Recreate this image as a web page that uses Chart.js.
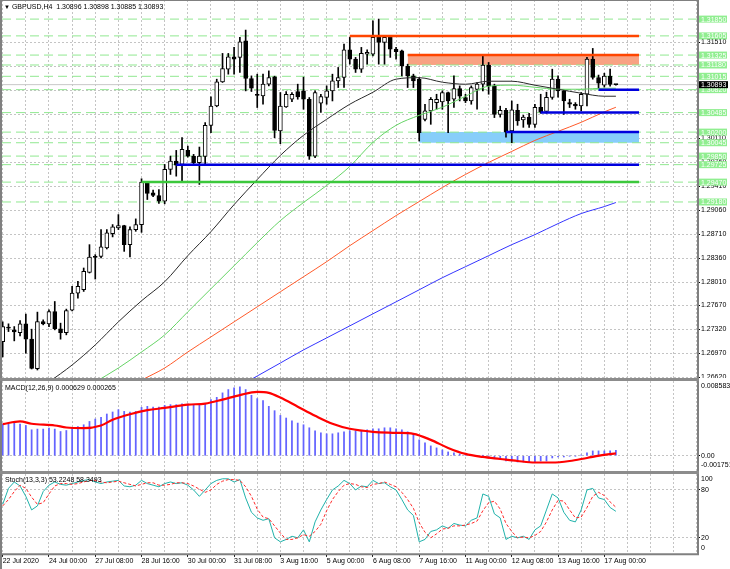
<!DOCTYPE html>
<html><head><meta charset="utf-8">
<script src="https://cdn.jsdelivr.net/npm/chart.js@4.4.0/dist/chart.umd.min.js"></script>
<style>
html,body{margin:0;padding:0;background:#fff;width:730px;height:569px;overflow:hidden;position:relative;}
canvas{position:absolute;left:0;}
.lbl{position:absolute;font:7px "Liberation Sans",Arial,sans-serif;line-height:8px;color:#000;white-space:pre;}
.sep{position:absolute;left:0;width:699px;background:#8c8c8c;}
</style></head><body>
<canvas id="cMain" style="top:0px" width="730" height="378"></canvas>
<canvas id="cMacd" style="top:381px" width="730" height="90"></canvas>
<canvas id="cStoch" style="top:474px" width="730" height="95"></canvas>
<div class="sep" style="top:378px;height:3px"></div>
<div class="sep" style="top:471px;height:3px"></div>
<div class="lbl" style="left:4px;top:3px"><span style="font-size:6px">▼</span> GBPUSD,H4  1.30896 1.30898 1.30885 1.30893</div>
<div class="lbl" style="left:5px;top:384px">MACD(12,26,9) 0.000629 0.000265</div>
<div class="lbl" style="left:5px;top:476px">Stoch(13,3,3) 53.2248 58.3493</div>
<script>
// ================= DATA =================
const timeLabels = ["22 Jul 2020","24 Jul 00:00","27 Jul 08:00","28 Jul 16:00","30 Jul 00:00","31 Jul 08:00","3 Aug 16:00","5 Aug 00:00","6 Aug 08:00","7 Aug 16:00","11 Aug 00:00","12 Aug 08:00","13 Aug 16:00","17 Aug 00:00"];
const priceTicks = [1.26620,1.26970,1.27320,1.27670,1.28010,1.28360,1.28710,1.29060,1.29410,1.29760,1.30110,1.30460,1.30810,1.31160,1.31510];

const opens = [1.27142,1.27346,1.27313,1.27273,1.27401,1.27177,1.26745,1.27434,1.27401,1.27581,
1.27327,1.27273,1.27600,1.27850,1.27898,1.28152,1.28386,1.28386,1.28509,1.28718,
1.28802,1.28835,1.28557,1.28777,1.28850,1.29460,1.29314,1.29275,1.29191,1.29655,
1.29777,1.29728,1.29933,1.29850,1.29753,1.29846,1.30299,1.30582,1.30933,1.31119,
1.31299,1.31291,1.31533,1.30983,1.30753,1.30728,1.30900,1.31006,1.30216,1.30567,
1.30680,1.30793,1.30802,1.30680,1.29850,1.30621,1.30705,1.30802,1.30948,1.30998,
1.31402,1.31266,1.31119,1.31339,1.31339,1.31583,1.31510,1.31583,1.31412,1.31387,
1.31159,1.31021,1.30973,1.30387,1.30509,1.30631,1.30640,1.30778,1.30680,1.30835,
1.30705,1.30655,1.30824,1.30900,1.31178,1.30875,1.30460,1.30519,1.30216,1.30519,
1.30378,1.30419,1.30314,1.30563,1.30504,1.30705,1.30973,1.30802,1.30631,1.30607,
1.30582,1.30753,1.31266,1.30998,1.30885,1.31018,1.30896];
const highs = [1.27430,1.27401,1.27361,1.27449,1.27543,1.27323,1.27572,1.27459,1.27606,1.27727,
1.27411,1.27616,1.27947,1.28020,1.28216,1.28557,1.28411,1.28777,1.28777,1.28850,
1.28996,1.28840,1.28816,1.28933,1.29519,1.29475,1.29352,1.29362,1.29728,1.29850,
1.29933,1.30119,1.29996,1.29875,1.29982,1.30339,1.30714,1.30973,1.31349,1.31349,
1.31437,1.31583,1.31690,1.31021,1.31046,1.31046,1.31094,1.31017,1.30778,1.30793,
1.30778,1.30900,1.31002,1.30705,1.30802,1.30753,1.30875,1.31046,1.31144,1.31485,
1.31583,1.31291,1.31437,1.31402,1.31826,1.31851,1.31607,1.31607,1.31437,1.31397,
1.31192,1.31046,1.30998,1.30607,1.30705,1.30753,1.30802,1.30785,1.31021,1.30875,
1.30753,1.30875,1.30925,1.31314,1.31217,1.30900,1.30579,1.30548,1.30655,1.30607,
1.30446,1.30475,1.30607,1.30753,1.30783,1.31119,1.31021,1.30810,1.30680,1.30631,
1.30778,1.31291,1.31422,1.31033,1.31060,1.31119,1.30898];
const lows = [1.26917,1.27288,1.27152,1.27225,1.26972,1.26742,1.26727,1.27386,1.27361,1.27313,
1.27177,1.27240,1.27590,1.27777,1.27874,1.28143,1.28055,1.28363,1.28494,1.28670,
1.28777,1.28459,1.28377,1.28752,1.28737,1.29216,1.29256,1.29158,1.29153,1.29582,
1.29557,1.29484,1.29835,1.29728,1.29436,1.29728,1.30192,1.30570,1.30925,1.31046,
1.31046,1.31071,1.30802,1.30793,1.30559,1.30607,1.30875,1.30119,1.30031,1.30559,
1.30646,1.30680,1.30534,1.29802,1.29826,1.30487,1.30607,1.30655,1.30851,1.30851,
1.31192,1.31071,1.31071,1.31192,1.31314,1.31192,1.31192,1.31291,1.31266,1.31021,
1.30851,1.30851,1.30070,1.30362,1.30314,1.30534,1.30534,1.30192,1.30559,1.30655,
1.30631,1.30607,1.30534,1.30802,1.30753,1.30412,1.30419,1.30126,1.30045,1.30299,
1.30270,1.30270,1.30270,1.30475,1.30475,1.30680,1.30709,1.30460,1.30559,1.30534,
1.30509,1.30582,1.30973,1.30841,1.30856,1.30870,1.30885];
const closes = [1.27361,1.27338,1.27283,1.27401,1.27177,1.26750,1.27434,1.27401,1.27581,1.27327,
1.27273,1.27595,1.27850,1.27947,1.28166,1.28377,1.28371,1.28524,1.28729,1.28816,
1.28835,1.28557,1.28777,1.28850,1.29469,1.29304,1.29275,1.29191,1.29655,1.29777,
1.29718,1.29948,1.29850,1.29753,1.29850,1.30299,1.30582,1.30933,1.31129,1.31299,
1.31266,1.31519,1.30983,1.30841,1.30734,1.30900,1.30998,1.30226,1.30582,1.30753,
1.30753,1.30714,1.30680,1.29850,1.30778,1.30720,1.30802,1.30948,1.30998,1.31402,
1.31266,1.31119,1.31349,1.31364,1.31583,1.31510,1.31583,1.31412,1.31373,1.31167,
1.31021,1.30948,1.30192,1.30509,1.30680,1.30680,1.30778,1.30655,1.30835,1.30724,
1.30655,1.30851,1.30900,1.31178,1.30875,1.30460,1.30519,1.30199,1.30524,1.30363,
1.30419,1.30314,1.30563,1.30490,1.30709,1.30973,1.30802,1.30655,1.30607,1.30582,
1.30753,1.31266,1.30998,1.30914,1.31017,1.30896,1.30893];

const maBlackIdx = [8,12,16,20,24,28,32,36,40,44,48,52,56,60,64,68,72,76,80,84,88,92,96,100,104,106];
const maBlack = [1.26551,1.26800,1.27093,1.27430,1.27737,1.28015,1.28396,1.28747,1.29142,1.29508,1.29860,1.30153,1.30387,1.30607,1.30782,1.30973,1.30995,1.30929,1.30899,1.30943,1.30943,1.30885,1.30826,1.30768,1.30724,1.30724];
const maGreenIdx = [16,20,24,28,32,36,40,44,48,52,56,60,64,68,72,76,80,84,88,92,96,100,104,106];
const maGreen = [1.26551,1.26756,1.26990,1.27239,1.27576,1.27913,1.28249,1.28586,1.28908,1.29172,1.29421,1.29699,1.30050,1.30299,1.30445,1.30563,1.30724,1.30870,1.30885,1.30855,1.30826,1.30826,1.30841,1.30841];
const maRedIdx = [24,28,32,36,40,44,48,52,56,60,64,68,72,76,80,84,88,92,96,100,104,106];
const maRed = [1.26580,1.26756,1.26990,1.27210,1.27430,1.27649,1.27869,1.28088,1.28308,1.28542,1.28762,1.28981,1.29186,1.29391,1.29582,1.29757,1.29918,1.30079,1.30211,1.30343,1.30496,1.30563];
const maBlueIdx = [40,44,48,52,56,60,64,68,72,76,80,84,88,92,96,100,104,106];
const maBlue = [1.26449,1.26639,1.26829,1.27020,1.27195,1.27371,1.27547,1.27722,1.27898,1.28074,1.28235,1.28396,1.28557,1.28703,1.28864,1.29011,1.29113,1.29172];

const levels = [1.31850,1.31605,1.31325,1.31180,1.31015,1.30820,1.30485,1.30200,1.30045,1.29850,1.29725,1.29470,1.29180];
const currentPrice = 1.30893;
const segValues = [1.31605,1.31325,1.30820,1.30485,1.30200,1.29725,1.29470];
const segStarts = [60,70,103,93,87,30,24];
const segEnd = 110;
const boxTops = [1.31325,1.30200];
const boxBottoms = [1.31180,1.30045];
const boxStarts = [70,72];

const macdHist = [0.003639,0.003673,0.003754,0.003639,0.003477,0.002980,0.003061,0.003061,0.003177,0.003061,
0.002784,0.002899,0.003177,0.003361,0.003558,0.003939,0.004216,0.004401,0.004794,0.005025,
0.005291,0.005094,0.005025,0.005094,0.005556,0.005672,0.005602,0.005602,0.005787,0.005868,
0.005868,0.005949,0.005949,0.005868,0.005787,0.005984,0.006446,0.006711,0.007220,0.007601,
0.007797,0.007913,0.007601,0.006942,0.006561,0.006330,0.005672,0.005175,0.004632,0.004332,
0.004020,0.003754,0.003558,0.003211,0.002865,0.002634,0.002518,0.002518,0.002634,0.002749,
0.002865,0.002865,0.002865,0.002980,0.003096,0.003096,0.003211,0.003211,0.003096,0.002980,
0.002749,0.002518,0.001825,0.001479,0.001132,0.000901,0.000670,0.000439,0.000323,0.000208,
0.000092,0.000035,-0.000023,0.000035,-0.000023,-0.000254,-0.000370,-0.000601,-0.000601,-0.000716,
-0.000716,-0.000716,-0.000716,-0.000601,-0.000601,-0.000254,-0.000139,-0.000139,-0.000023,-0.000023,
0.000092,0.000323,0.000554,0.000554,0.000554,0.000554,0.000629];
const macdSignalIdx = [0,3,5,9,11,14,17,19,22,25,28,32,35,38,41,44,46,48,51,54,57,60,64,68,71,74,77,80,83,86,89,92,95,98,101,104,106];
const macdSignal = [0.003639,0.003939,0.003673,0.003477,0.003246,0.003177,0.003477,0.004135,0.004771,0.005233,0.005487,0.005868,0.005984,0.006446,0.006965,0.007335,0.007220,0.006677,0.005637,0.004597,0.003673,0.003096,0.002749,0.002634,0.002518,0.001825,0.000901,0.000208,-0.000139,-0.000370,-0.000601,-0.000774,-0.000774,-0.000601,-0.000254,0.000092,0.000265];
const macdRange = [-0.001751, 0.008583];
const macdAxisValues = [0.008583, 0, -0.001751];
const macdAxisTexts = ["0.008583","0.00","-0.001751"];

const stochMain = [62,82,90,85,72,55,60,78,86,90,
87,86,88,90,92,93,90,88,90,91,
92,85,84,86,92,88,86,84,88,90,
88,89,86,80,72,80,88,92,94,94,
90,93,70,52,45,42,44,20,15,18,
22,20,30,15,40,55,68,80,85,92,
88,80,85,84,92,88,89,84,80,68,
55,48,15,18,28,30,35,32,38,36,
35,42,45,75,72,50,45,18,22,20,
22,18,30,35,55,75,70,52,42,40,
55,80,82,70,68,58,53.2248];
const stochSignal = [60,68,78,86,82,71,62,64,75,85,
88,88,87,88,90,92,92,90,89,90,
91,89,87,85,87,89,89,86,86,87,
89,89,88,85,81,77,80,87,91,93,
93,92,84,72,56,46,44,35,26,18,
18,20,24,22,28,37,54,68,78,86,
88,87,84,83,87,88,90,87,84,77,
68,57,39,27,20,25,31,32,35,35,
36,38,41,54,64,66,56,38,28,20,
21,20,23,28,40,55,67,66,55,45,
46,58,72,77,73,65,58.3493];
const stochAxisValues = [100,80,20,0];
const stochLevels = [20,80];

// ================= STYLE / SETUP =================
const FONT = '"Liberation Sans", Arial, sans-serif';
Chart.defaults.font.family = FONT;
Chart.defaults.font.size = 7;
Chart.defaults.color = '#000';
const XMIN = -0.121, XMAX = 120.02;
const GRID = '#c4c4c4';
const segColors = ['#ff4500','#ff4500','#0000dd','#0000dd','#0000dd','#0000dd','#3cc83c'];
const boxColors = ['#f8a283','#87cefa'];

function xAxis(showLabels){
  return {
    type:'linear', min:XMIN, max:XMAX, offset:false, position:'bottom',
    afterBuildTicks: s => { const t=[]; for(let v=0; v<=XMAX; v+=4) t.push({value:v}); s.ticks=t; },
    ticks:{ display:showLabels, autoSkip:false, maxRotation:0, minRotation:0, align:'start', padding:0, color:'#000', font:{size:7},
      callback: v => (v%8===0 && v/8 < timeLabels.length) ? timeLabels[v/8] : '' },
    grid:{ offset:false, color:GRID, lineWidth:1, drawTicks:showLabels, tickLength:3, tickWidth:1,
      tickColor: c => (c.tick && c.tick.value%8===0 && c.tick.value/8 < timeLabels.length) ? '#000' : 'rgba(0,0,0,0)' },
    border:{ display:false, dash:[2,2] },
    afterFit: s => { s.height = showLabels ? 15.2 : 0; s.paddingLeft=0; s.paddingRight=0; }
  };
}
function yAxis(min, max, tickVals, showLabels, fmt){
  return {
    type:'linear', position:'right', min:min, max:max, beginAtZero:false,
    afterBuildTicks: s => { s.ticks = tickVals.map(v=>({value:v})); },
    ticks:{ display:showLabels, autoSkip:false, padding:1, color:'#000', font:{size:7}, callback: fmt || (v => v) },
    grid:{ color:GRID, lineWidth:1, drawTicks:true, tickLength:3, tickWidth:1, tickColor:'#000' },
    border:{ display:false, dash:[2,2] },
    afterFit: s => { s.width = 33; s.paddingTop=0; s.paddingBottom=0; }
  };
}
const framePlugin = {
  id:'frame',
  afterDraw(chart, args, opts){
    const {ctx, chartArea:a} = chart;
    ctx.save(); ctx.strokeStyle='#808080'; ctx.setLineDash([]);
    ctx.lineWidth = 2;
    ctx.beginPath(); ctx.moveTo(1, 0); ctx.lineTo(1, chart.height); ctx.stroke();
    ctx.beginPath(); ctx.moveTo(a.right+1, 0); ctx.lineTo(a.right+1, a.bottom+ (opts.bottom?1:0)); ctx.stroke();
    if (opts.top){ ctx.lineWidth=1; ctx.beginPath(); ctx.moveTo(0, 0.5); ctx.lineTo(a.right+1, 0.5); ctx.stroke(); }
    if (opts.bottom){ ctx.lineWidth=2; ctx.beginPath(); ctx.moveTo(0, a.bottom+0.5); ctx.lineTo(a.right+2, a.bottom+0.5); ctx.stroke(); }
    ctx.restore();
  }
};
const sideLabelsPlugin = {
  id:'sideLabels',
  afterDraw(chart, args, opts){
    if (!opts.values) return;
    const {ctx, chartArea:a} = chart; const y = chart.scales.y;
    ctx.save(); ctx.font = '7px ' + FONT; ctx.fillStyle='#000'; ctx.textBaseline='middle'; ctx.textAlign='left';
    opts.values.forEach((v,i) => {
      let py = y.getPixelForValue(v);
      py = Math.min(Math.max(py, a.top+5.5), a.bottom-5.5);
      ctx.fillText(opts.texts[i], a.right+4, py);
    });
    ctx.restore();
  }
};
const levelLabelsPlugin = {
  id:'levelLabels',
  afterDraw(chart, args, opts){
    if (!opts.levels) return;
    const {ctx, chartArea:a} = chart; const y = chart.scales.y;
    ctx.save(); ctx.font = '7px ' + FONT; ctx.textBaseline='middle'; ctx.textAlign='left';
    opts.levels.forEach(v => {
      const py = y.getPixelForValue(v);
      ctx.fillStyle='#90ee90'; ctx.fillRect(a.right+2, py-3.5, 28, 7);
      ctx.fillStyle='#ffffff'; ctx.fillText(v.toFixed(5), a.right+4, py+0.5);
    });
    const pc = y.getPixelForValue(opts.current);
    ctx.fillStyle='#000'; ctx.fillRect(a.right+2, pc-3.5, 29, 7);
    ctx.fillStyle='#fff'; ctx.fillText(opts.current.toFixed(5), a.right+4, pc+0.5);
    ctx.restore();
  }
};

const baseOpts = {
  responsive:false, animation:false, events:[],
  layout:{ padding:{left:2, right:0, top:0, bottom:0}, autoPadding:false },
  plugins:{ legend:{display:false}, tooltip:{enabled:false} },
  elements:{ point:{ radius:0 } }
};

// ================= MAIN CHART =================
const mainSets = [];
boxTops.forEach((t,k) => mainSets.push({ type:'line', data:[{x:boxStarts[k], y:t},{x:segEnd, y:t}],
  borderWidth:0, borderColor:'rgba(0,0,0,0)', backgroundColor:boxColors[k], fill:{value:boxBottoms[k]}, order:7, clip:0 }));
levels.forEach(v => mainSets.push({ type:'line', data:[{x:XMIN, y:v},{x:XMAX, y:v}],
  borderColor:'#90e890', borderWidth:1, borderDash:[9,5], fill:false, order:6, clip:0 }));
mainSets.push({ type:'line', data:[{x:XMIN, y:currentPrice},{x:XMAX, y:currentPrice}],
  borderColor:'#c8c8c8', borderWidth:1, fill:false, order:6, clip:0 });
mainSets.push({ type:'bar', data: opens.map((o,i)=>({x:i, y:[lows[i], highs[i]]})),
  backgroundColor:'#000', borderWidth:0, barThickness:1, grouped:false, order:5 });
mainSets.push({ type:'bar', data: opens.map((o,i)=>({x:i, y:[o, closes[i]]})),
  backgroundColor: opens.map((o,i)=> closes[i] >= o ? '#ffffff' : '#000000'),
  borderColor:'#000', borderWidth:1, borderSkipped:false, barThickness:4, minBarLength:1, grouped:false, order:4 });
[[maBlackIdx, maBlack, '#2a2a2a'], [maGreenIdx, maGreen, '#66d466'], [maRedIdx, maRed, '#ff5a2a'], [maBlueIdx, maBlue, '#3434ff']]
  .forEach(([ix, vals, col]) => mainSets.push({ type:'line', data: ix.map((x,k)=>({x:x, y:vals[k]})),
    borderColor:col, borderWidth:1, fill:false, tension:0.3, cubicInterpolationMode:'monotone', order:3, clip:0 }));
segValues.forEach((v,k) => mainSets.push({ type:'line', data:[{x:segStarts[k], y:v},{x:segEnd, y:v}],
  borderColor:segColors[k], borderWidth:2.5, fill:false, order:1, clip:0 }));

new Chart(document.getElementById('cMain'), {
  type:'line', data:{ datasets: mainSets },
  options: Object.assign({}, baseOpts, {
    scales:{ x: xAxis(false), y: yAxis(1.26610, 1.32129, priceTicks, true, v => v.toFixed(5)) },
    plugins:{ legend:{display:false}, tooltip:{enabled:false}, frame:{top:true}, levelLabels:{ levels: levels, current: currentPrice } }
  }),
  plugins:[framePlugin, levelLabelsPlugin]
});

// ================= MACD =================
new Chart(document.getElementById('cMacd'), {
  type:'line',
  data:{ datasets:[
    { type:'line', data: macdSignalIdx.map((x,k)=>({x:x, y:macdSignal[k]})), borderColor:'#ff0000', borderWidth:2.2,
      fill:false, tension:0.35, cubicInterpolationMode:'monotone', order:0, clip:0 },
    { type:'bar', data: macdHist.map((v,i)=>({x:i, y:v})), backgroundColor:'#6464ff', borderWidth:0, barThickness:1.1, grouped:false, order:1 }
  ]},
  options: Object.assign({}, baseOpts, {
    scales:{ x: xAxis(false), y: yAxis(macdRange[0], macdRange[1], [0], false) },
    plugins:{ legend:{display:false}, tooltip:{enabled:false}, frame:{}, sideLabels:{ values: macdAxisValues, texts: macdAxisTexts } }
  }),
  plugins:[framePlugin, sideLabelsPlugin]
});

// ================= STOCH =================
new Chart(document.getElementById('cStoch'), {
  type:'line',
  data:{ datasets:[
    { type:'line', data: stochSignal.map((v,i)=>({x:i, y:v})), borderColor:'#ff2a2a', borderWidth:1, borderDash:[3,2], fill:false, order:0, clip:0 },
    { type:'line', data: stochMain.map((v,i)=>({x:i, y:v})), borderColor:'#20b2aa', borderWidth:1, fill:false, order:1, clip:0 }
  ]},
  options: Object.assign({}, baseOpts, {
    scales:{ x: xAxis(true), y: yAxis(0, 100, stochLevels, false) },
    plugins:{ legend:{display:false}, tooltip:{enabled:false}, frame:{bottom:true}, sideLabels:{ values: stochAxisValues, texts: stochAxisValues.map(String) } }
  }),
  plugins:[framePlugin, sideLabelsPlugin]
});
</script>
</body></html>
